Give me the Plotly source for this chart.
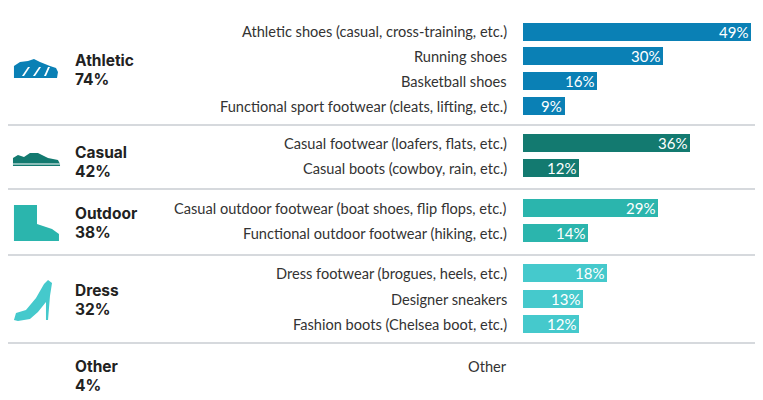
import plotly.graph_objects as go

groups = ["Athletic", "Casual", "Outdoor", "Dress", "Other"]
group_pcts = [74, 42, 38, 32, 4]
group_colors = ["#0a80b5", "#137a70", "#2bb5ad", "#45c9cc", "#45c9cc"]
labels = [
    ["Athletic shoes (casual, cross-training, etc.)", "Running shoes", "Basketball shoes",
     "Functional sport footwear (cleats, lifting, etc.)"],
    ["Casual footwear (loafers, flats, etc.)", "Casual boots (cowboy, rain, etc.)"],
    ["Casual outdoor footwear (boat shoes, flip flops, etc.)", "Functional outdoor footwear (hiking, etc.)"],
    ["Dress footwear (brogues, heels, etc.)", "Designer sneakers", "Fashion boots (Chelsea boot, etc.)"],
    ["Other"],
]
values = [[49, 30, 16, 9], [36, 12], [29, 14], [18, 13, 12], [None]]

OFF = 8
W, H = 763 - OFF, 400 - OFF
row_y = [[32, 56, 81, 106], [143, 168], [208, 233], [273, 299, 324], [366]]
group_y = [69, 161, 222, 299, 375]
seps = [125, 189, 255, 343]

def px(x):
    return (x - OFF) / W

def py(y):
    return 1 - (y - OFF) / H

fig = go.Figure()
for gi, g in enumerate(groups):
    ys = row_y[gi]
    vals = values[gi]
    bx = [v for v in vals if v is not None]
    by = [y for y, v in zip(ys, vals) if v is not None]
    if bx:
        fig.add_trace(go.Bar(x=bx, y=by, orientation="h", width=18,
                             marker=dict(color=group_colors[gi], line=dict(width=0)),
                             hoverinfo="skip", showlegend=False))
        for v, y in zip(bx, by):
            fig.add_annotation(x=v, y=y, xref="x", yref="y", text=f"{v}%", showarrow=False, xanchor="right",
                               xshift=-1, yanchor="middle", font=dict(color="white", size=15, family="Lato"))
    for lab, y in zip(labels[gi], ys):
        fig.add_annotation(x=px(509), y=py(y), xref="paper", yref="paper", text=lab, showarrow=False,
                           xanchor="right", yanchor="middle", font=dict(size=14.6, color="#333", family="Lato"))
    gy = group_y[gi]
    fig.add_annotation(x=px(73), y=py(gy - 9), xref="paper", yref="paper", text=f"<b>{g}</b>", showarrow=False,
                       xanchor="left", yanchor="middle", font=dict(size=15.5, color="#222", family="Inter"))
    fig.add_annotation(x=px(73), y=py(gy + 10), xref="paper", yref="paper", text=f"<b>{group_pcts[gi]}%</b>",
                       showarrow=False, xanchor="left", yanchor="middle", font=dict(size=15.5, color="#222", family="Inter"))

for s in seps:
    fig.add_shape(type="line", xref="paper", yref="paper", x0=0, x1=1, y0=py(s), y1=py(s),
                  line=dict(color="#c8ccd2", width=1.3))

def path(pts):
    return "M " + " L ".join(f"{px(x):.4f},{py(y):.4f}" for x, y in pts) + " Z"

icons = [
    [(14, 78), (14, 66), (20, 62), (28, 61), (34, 59), (40, 62), (50, 66), (56, 68), (58, 72), (57, 78)],
    [(13, 166), (13, 158), (18, 155), (24, 157), (30, 153), (38, 153), (48, 158), (58, 160), (60, 164), (60, 166)],
    [(14, 238), (14, 205), (37, 205), (37, 224), (52, 229), (59, 234), (59, 241), (14, 241)],
    [(14, 320), (16, 313), (26, 310), (36, 298), (44, 284), (48, 280), (52, 283), (50, 296), (48, 320), (46, 320),
     (46, 302), (38, 312), (30, 319), (18, 321)],
]
for i, pts in enumerate(icons):
    fig.add_shape(type="path", xref="paper", yref="paper", path=path(pts), fillcolor=group_colors[i], line=dict(width=0))
for x0, x1 in [(22, 30), (33, 41), (44, 50)]:
    fig.add_shape(type="path", xref="paper", yref="paper", path=path([(x0, 76), (x1 - 2, 67), (x1, 67), (x0 + 2, 76)]),
                  fillcolor="white", line=dict(width=0))
fig.add_shape(type="line", xref="paper", yref="paper", x0=px(13), x1=px(60), y0=py(164), y1=py(164),
              line=dict(color="white", width=1.2))

fig.update_layout(
    width=W, height=H, margin=dict(l=0, r=0, t=0, b=0), paper_bgcolor="white", plot_bgcolor="white",
    xaxis=dict(domain=[px(523), 1], range=[0, (763 - 523) / 4.65], visible=False),
    yaxis=dict(range=[400, OFF], visible=False),
    bargap=0,
)
fig.write_html("out.html")
